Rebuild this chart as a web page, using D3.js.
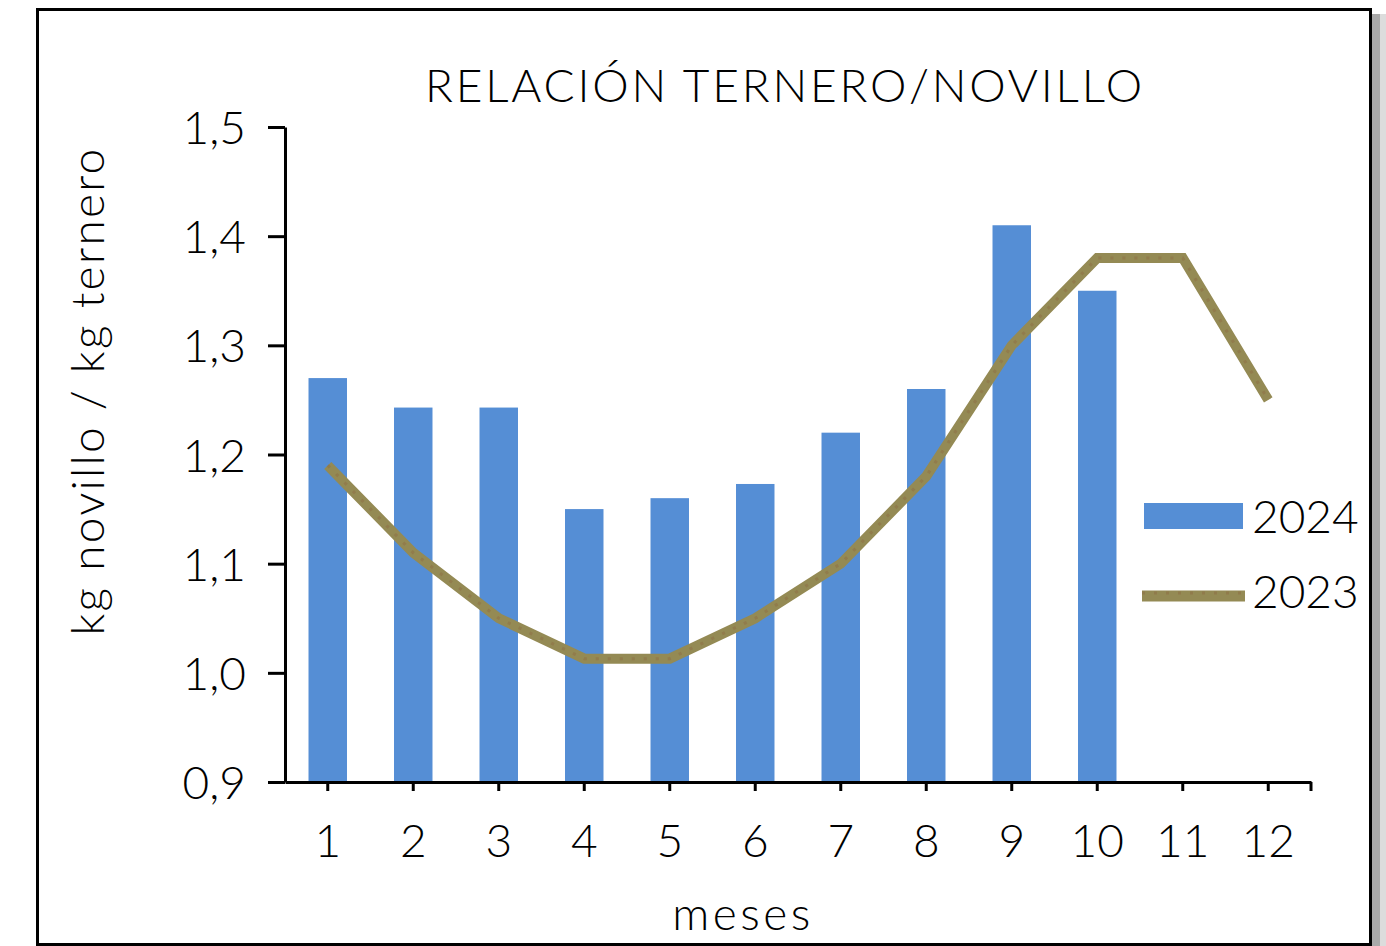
<!DOCTYPE html>
<html>
<head>
<meta charset="utf-8">
<script src="https://cdn.jsdelivr.net/npm/d3@7"></script>
<style>
  body { margin: 0; background: #fff; }
  text { font-family: "Lato", "DejaVu Sans", sans-serif; font-weight: 300; fill: #000; }
</style>
</head>
<body>
<div id="chart"></div>
<script>
// data
var months = ["1", "2", "3", "4", "5", "6", "7", "8", "9", "10", "11", "12"];
var values2024 = [1.27, 1.243, 1.243, 1.15, 1.16, 1.173, 1.22, 1.26, 1.41, 1.35];
var values2023 = [1.19, 1.11, 1.05, 1.013, 1.013, 1.05, 1.10, 1.18, 1.30, 1.38, 1.38, 1.25];
var yTicks = [0.9, 1.0, 1.1, 1.2, 1.3, 1.4, 1.5];
var seriesNames = ["2024", "2023"];

var width = 1386, height = 946;
var margin = { left: 285, right: 75, top: 127, bottom: 164 };
var fontSize = 46;

var svg = d3.select("#chart").append("svg").attr("width", width).attr("height", height);

// frame + shadow
svg.append("rect").attr("x", 1372).attr("y", 14).attr("width", 8).attr("height", height).attr("fill", "#a9a9a9");
svg.append("rect").attr("x", 1380).attr("y", 14).attr("width", 6).attr("height", height).attr("fill", "#dcdcdc");
svg.append("rect").attr("x", 37.5).attr("y", 9.5).attr("width", 1333).attr("height", 935)
  .attr("fill", "#fff").attr("stroke", "#000").attr("stroke-width", 3);

var x = d3.scaleBand().domain(months).range([margin.left, width - margin.right]).padding(0);
var y = d3.scaleLinear().domain([0.9, 1.5]).range([height - margin.bottom, margin.top]);
var fmt = function(d) { return d3.format(".1f")(d).replace(".", ","); };

// bars 2024
var barW = x.bandwidth() * 0.45;
svg.append("g").selectAll("rect").data(values2024).enter().append("rect")
  .attr("x", function(d, i) { return x(months[i]) + x.bandwidth() / 2 - barW / 2; })
  .attr("y", function(d) { return y(d); })
  .attr("width", barW)
  .attr("height", function(d) { return y(0.9) - y(d); })
  .attr("fill", "#558ed5");

// line 2023
var line = d3.line()
  .x(function(d, i) { return x(months[i]) + x.bandwidth() / 2; })
  .y(function(d) { return y(d); });
svg.append("path").attr("d", line(values2023)).attr("fill", "none")
  .attr("stroke", "#948a54").attr("stroke-width", 10).attr("stroke-linejoin", "miter");
svg.append("path").attr("d", line(values2023)).attr("fill", "none")
  .attr("stroke", "#8e6d44").attr("stroke-width", 3).attr("stroke-dasharray", "3,9").attr("opacity", 0.5);

// y axis
var yAxis = d3.axisLeft(y).tickValues(yTicks).tickFormat(fmt).tickSize(17).tickSizeOuter(0).tickPadding(22);
var gy = svg.append("g").attr("transform", "translate(" + margin.left + ",0)").call(yAxis);
gy.selectAll("line").attr("stroke", "#000").attr("stroke-width", 3);
gy.select(".domain").attr("stroke", "#000").attr("stroke-width", 3);
gy.selectAll("text").attr("font-size", fontSize).attr("font-family", null).attr("dy", "0.36em");

// x axis
var xAxis = d3.axisBottom(x).tickSize(9).tickSizeOuter(0).tickPadding(33);
var gx = svg.append("g").attr("transform", "translate(0," + y(0.9) + ")").call(xAxis);
gx.selectAll("line").attr("stroke", "#000").attr("stroke-width", 3);
gx.select(".domain").attr("stroke", "#000").attr("stroke-width", 3);
gx.selectAll("text").attr("font-size", fontSize).attr("font-family", null);
gx.append("line").attr("x1", x.range()[1]).attr("x2", x.range()[1]).attr("y1", 0).attr("y2", 9)
  .attr("stroke", "#000").attr("stroke-width", 3);

// title and axis titles
svg.append("text").attr("x", 785).attr("y", 102).attr("text-anchor", "middle")
  .attr("font-size", fontSize).attr("letter-spacing", 2.8).text("RELACIÓN TERNERO/NOVILLO");
svg.append("text").attr("transform", "translate(104,391) rotate(-90)").attr("text-anchor", "middle")
  .attr("font-size", fontSize).attr("letter-spacing", 2.3).text("kg novillo / kg ternero");
svg.append("text").attr("x", 743).attr("y", 930).attr("text-anchor", "middle")
  .attr("font-size", fontSize).attr("letter-spacing", 3.5).text("meses");

// legend
var leg = svg.append("g").attr("transform", "translate(1144,0)");
leg.append("rect").attr("x", 0).attr("y", 503).attr("width", 99).attr("height", 26).attr("fill", "#558ed5");
leg.append("line").attr("x1", -2).attr("x2", 101).attr("y1", 596).attr("y2", 596)
  .attr("stroke", "#948a54").attr("stroke-width", 11);
leg.append("line").attr("x1", -2).attr("x2", 101).attr("y1", 593).attr("y2", 593)
  .attr("stroke", "#8e6d44").attr("stroke-width", 3).attr("stroke-dasharray", "3,9").attr("opacity", 0.5);
leg.selectAll("text.lg").data(seriesNames).enter().append("text").attr("class", "lg")
  .attr("x", 108).attr("y", function(d, i) { return 533 + i * 75; })
  .attr("font-size", fontSize).text(function(d) { return d; });
</script>
</body>
</html>
